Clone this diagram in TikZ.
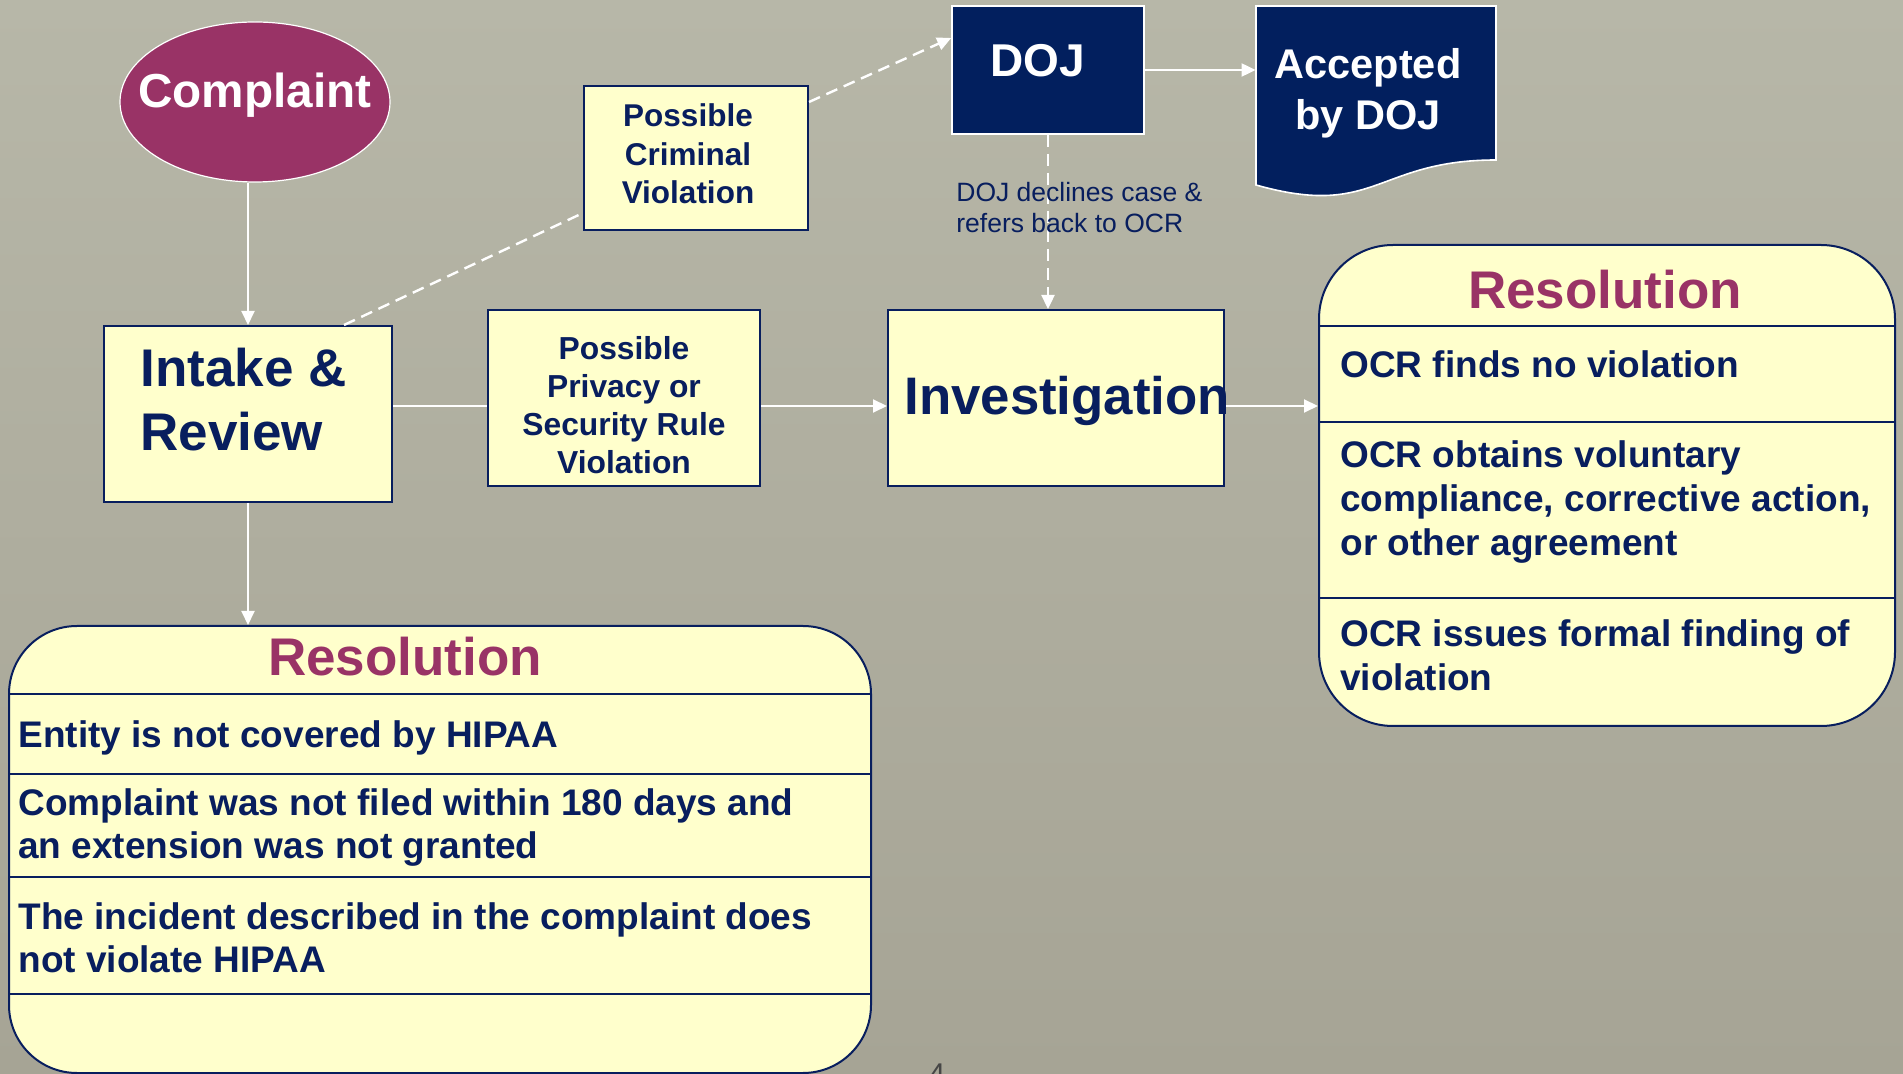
\documentclass[tikz,border=0pt]{standalone}
\usepackage{fontspec}
\setmainfont{Liberation Sans}
\usetikzlibrary{arrows.meta,calc,shapes.geometric}

\definecolor{navy}{RGB}{8,30,94}
\definecolor{dojblue}{RGB}{2,31,94}
\definecolor{plum}{RGB}{153,51,102}
\definecolor{cream}{RGB}{255,255,204}
\definecolor{bgtop}{RGB}{183,183,168}
\definecolor{bgbot}{RGB}{166,164,149}
\definecolor{pagegray}{RGB}{70,70,70}

\newcommand\fsz[2]{\fontsize{#1}{#2}\selectfont\bfseries}

\tikzset{
  flowbox/.style={draw=navy, line width=1pt, fill=cream, inner sep=0pt},
  darkbox/.style={draw=white, line width=0.8pt, fill=dojblue, inner sep=0pt},
  resbox/.style={draw=navy, line width=1pt, fill=cream, inner sep=0pt},
  txt/.style={inner sep=0pt, anchor=base, text=navy, font=\bfseries},
  tip/.style={-{Triangle[length=7pt,width=6.5pt]}},
  link/.style={draw=white, line width=1pt, tip},
  plainlink/.style={draw=white, line width=1pt},
  dashlink/.style={draw=white, line width=1.2pt, dash pattern=on 6pt off 3.5pt},
  rule/.style={draw=navy, line width=1pt},
}

\begin{document}
\begin{tikzpicture}[x=0.5pt,y=-0.5pt]
\useasboundingbox (0,0) rectangle (1903,1074);
\fill[top color=bgtop,bottom color=bgbot] (0,0) rectangle (1903,1074);

% shapes
\node[ellipse, fill=plum, draw=white, line width=0.6pt, minimum width=135pt,
      minimum height=80pt, inner sep=0pt] (complaint) at (255,102) {};
\node[flowbox, minimum width=144pt, minimum height=88pt] (intake) at (248,414) {};
\node[flowbox, minimum width=136pt, minimum height=88pt] (privacy) at (624,398) {};
\node[flowbox, minimum width=112pt, minimum height=72pt] (criminal) at (696,158) {};
\node[flowbox, minimum width=168pt, minimum height=88pt] (invest) at (1056,398) {};
\node[darkbox, minimum width=96pt, minimum height=64pt] (doj) at (1048,70) {};
\node[minimum width=120pt, minimum height=96pt, inner sep=0pt] (accepted) at (1376,102) {};
\filldraw[fill=dojblue, draw=white, line width=0.8pt]
  (1256,6) -- (1496,6) -- (1496,160) .. controls (1376,160) and (1376,219) .. (1256,185) -- cycle;
\node[resbox, rounded corners=37pt, minimum width=288pt, minimum height=240.5pt] (resR) at (1607,485.5) {};
\node[resbox, rounded corners=34pt, minimum width=431pt, minimum height=223.5pt] (resL) at (440,849.5) {};

% row rules inside the resolution panels
\foreach \yy in {326,422,598}
  \draw[rule] (resR.west |- 0,\yy) -- (resR.east |- 0,\yy);
\foreach \yy in {694,774,877,994}
  \draw[rule] (resL.west |- 0,\yy) -- (resL.east |- 0,\yy);

% connectors
\coordinate (lane) at (0,406);
\draw[link] (complaint.south -| intake.north) -- (intake.north);
\draw[link] (intake.south) -- (intake.south |- resL.north);
\draw[plainlink] (intake.east |- lane) -- (privacy.west |- lane);
\draw[link] (privacy.east |- lane) -- (invest.west |- lane);
\draw[link] (invest.east |- lane) -- (resR.west |- lane);
\draw[link] (doj.east) -- (doj.east -| accepted.west);
\draw[dashlink, tip] (doj.south) -- (doj.south |- invest.north);
\draw[dashlink] ([xshift=48pt]intake.north) -- ([yshift=-27.5pt]criminal.west);
\draw[dashlink, tip] ([yshift=28pt]criminal.east) -- ([yshift=16pt]doj.west);

% texts (multi-line nodes sit on the baseline of their last line)
\node[txt, text=white, font=\fsz{23.85pt}{28pt}] (complaintT) at (255,108) {Complaint};
\node[txt, anchor=base west, font=\fsz{26.5pt}{32pt}, align=left] (intakeT) at (140,451) {Intake \&\\Review};
\node[txt, font=\fsz{15.9pt}{19pt}, align=center] (privacyT) at (624,474) {Possible\\Privacy or\\Security Rule\\Violation};
\node[txt, font=\fsz{15.75pt}{19.25pt}, align=center] (criminalT) at (688,204) {Possible\\Criminal\\Violation};
\node[txt, anchor=base west, font=\fsz{26.4pt}{32pt}] (investT) at (904,415) {Investigation};
\node[txt, anchor=base west, text=white, font=\fsz{23pt}{28pt}] (dojT) at (990,77) {DOJ};
\node[txt, text=white, font=\fsz{20.75pt}{25.5pt}, align=center] (acceptedT) at (1368,130) {Accepted\\by DOJ};
\node[txt, anchor=base west, font=\fontsize{13.25pt}{15.5pt}\selectfont, align=left] (declineT) at (956,233) {DOJ declines case \&\\refers back to OCR};

\node[txt, text=plum, font=\fsz{26.5pt}{32pt}] (resRT) at (1605,309) {Resolution};
\node[txt, anchor=base west, font=\fsz{18.5pt}{22pt}] (r1) at (1340,378) {OCR finds no violation};
\node[txt, anchor=base west, font=\fsz{18.5pt}{22pt}, align=left] (r2) at (1340,556) {OCR obtains voluntary\\compliance, corrective action,\\or other agreement};
\node[txt, anchor=base west, font=\fsz{18.5pt}{22pt}, align=left] (r3) at (1340,691) {OCR issues formal finding of\\violation};

\node[txt, text=plum, font=\fsz{26.5pt}{32pt}] (resLT) at (405,676) {Resolution};
\node[txt, anchor=base west, font=\fsz{18.5pt}{21.5pt}] (l1) at (18,748) {Entity is not covered by HIPAA};
\node[txt, anchor=base west, font=\fsz{18.5pt}{21.5pt}, align=left] (l2) at (18,859) {Complaint was not filed within 180 days and\\an extension was not granted};
\node[txt, anchor=base west, font=\fsz{18.5pt}{21.5pt}, align=left] (l3) at (18,972) {The incident described in the complaint does\\not violate HIPAA};

\node[txt, text=pagegray, font=\fontsize{15pt}{18pt}\selectfont] (pagenum) at (937,1084) {4};
\end{tikzpicture}
\end{document}
